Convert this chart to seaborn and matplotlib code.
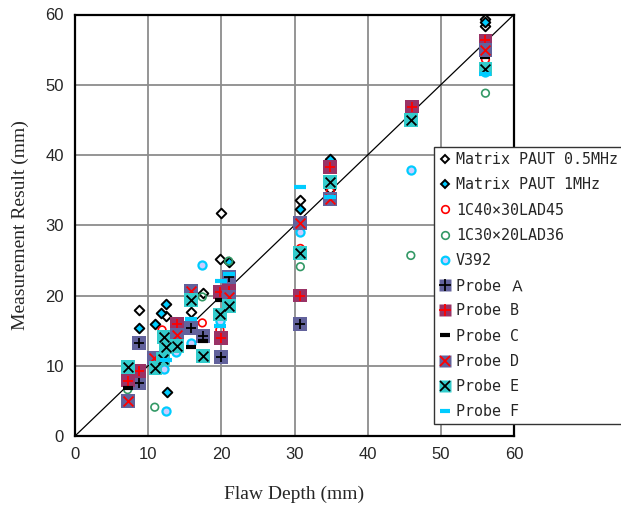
import matplotlib
matplotlib.use("Agg")
import matplotlib.pyplot as plt
from matplotlib.lines import Line2D
from matplotlib.legend_handler import HandlerTuple
import seaborn as sns

sns.set_theme(style="white")

# ---- measured flaw depths (x) and measurement results (y), in mm ----
m05_x = [8.8, 12.4, 15.9, 17.5, 19.8, 19.9, 30.8, 34.9, 34.9, 56.1, 56.1]
m05_y = [18.0, 17.1, 17.6, 20.4, 25.2, 31.8, 33.6, 39.0, 35.2, 59.4, 58.4]

m1_x = [8.7, 10.9, 11.8, 12.4, 12.6, 21.0, 30.8, 34.9, 56.1]
m1_y = [15.4, 16.0, 17.5, 18.8, 6.2, 24.8, 32.3, 39.4, 59.0]

c40_x = [11.9, 17.4, 19.8, 30.8, 34.9, 56.1]
c40_y = [15.1, 16.1, 15.1, 26.7, 34.8, 53.6]

c30_x = [7.2, 10.9, 17.4, 21.0, 30.8, 45.9, 56.1]
c30_y = [6.6, 4.1, 19.8, 24.9, 24.1, 25.7, 48.8]

v392_x = [12.5, 12.2, 13.8, 15.8, 17.4, 19.8, 30.8, 45.9, 56.1]
v392_y = [3.5, 9.5, 11.9, 13.3, 24.4, 16.3, 29.1, 37.9, 51.8]

pa_x = [8.7, 8.8, 15.9, 17.5, 20.0, 21.0, 30.8]
pa_y = [13.3, 7.6, 15.4, 14.2, 11.3, 22.6, 16.0]

pb_x = [7.2, 8.8, 14.0, 19.8, 21.0, 20.0, 30.8, 34.9, 46.0, 56.1]
pb_y = [7.9, 9.3, 16.0, 20.5, 20.7, 14.0, 20.0, 38.3, 46.9, 56.3]

pc_x = [7.2, 15.9, 17.5, 19.8, 56.1]
pc_y = [6.8, 12.6, 13.5, 19.3, 53.9]

pd_x = [7.2, 10.8, 14.0, 15.9, 21.0, 30.8, 34.9, 56.1]
pd_y = [5.0, 11.1, 14.4, 20.7, 19.8, 30.3, 33.7, 55.0]

pe_x = [7.2, 11.0, 12.0, 12.1, 12.4, 13.9, 15.9, 17.5, 19.8, 21.0, 30.8, 34.9, 45.9, 56.1]
pe_y = [9.8, 9.7, 11.0, 14.1, 12.7, 12.8, 19.4, 11.4, 17.3, 18.5, 26.0, 36.1, 45.0, 52.2]

pf_x = [12.4, 15.9, 19.9, 21.0, 19.8, 30.8, 34.9, 56.1]
pf_y = [10.8, 16.7, 22.0, 23.0, 15.7, 35.4, 34.0, 51.5]

labels = ["Matrix PAUT 0.5MHz", "Matrix PAUT 1MHz", "1C40×30LAD45",
          "1C30×20LAD36", "V392", "Probe Ａ", "Probe B", "Probe C",
          "Probe D", "Probe E", "Probe F"]

SLATE = "#62629c"
PLUM = "#993366"
TURQ = "#33cccc"
SKY = "#00ccff"
GREEN = "#339966"
LAV = "#ccccff"

fig = plt.figure(figsize=(6.21, 5.07), dpi=100)
ax = fig.add_axes([75 / 621, 1 - 436 / 507, 439 / 621, 421.5 / 507])

# reference line y = x
ax.plot([0, 60], [0, 60], color="black", lw=0.9, zorder=2)

z = 3
def pts(x, y, **kw):
    global z
    sns.scatterplot(x=x, y=y, ax=ax, legend=False, zorder=z, **kw)
    z += 0.1

pts(m05_x, m05_y, marker="D", s=24, color="white", edgecolor="black", linewidth=1.4)
pts(m1_x, m1_y, marker="D", s=24, color=SKY, edgecolor="black", linewidth=1.4)
pts(c40_x, c40_y, marker="o", s=30, facecolor="none", edgecolor="red", linewidth=1.2)
pts(c30_x, c30_y, marker="o", s=30, facecolor="none", edgecolor=GREEN, linewidth=1.2)
pts(v392_x, v392_y, marker="o", s=34, color=LAV, edgecolor=SKY, linewidth=1.6)

SQ = 100
pts(pa_x, pa_y, marker="s", s=SQ, color=SLATE, edgecolor="none")
pts(pa_x, pa_y, marker="+", s=60, color="black", linewidth=1.3)
pts(pb_x, pb_y, marker="s", s=SQ, color=PLUM, edgecolor="none")
pts(pb_x, pb_y, marker="+", s=60, color="red", linewidth=1.3)
pts(pc_x, pc_y, marker="_", s=50, color="black", linewidth=3)
pts(pd_x, pd_y, marker="s", s=SQ, color=SLATE, edgecolor="none")
pts(pd_x, pd_y, marker="x", s=50, color="red", linewidth=1.3)
pts(pe_x, pe_y, marker="s", s=SQ, color=TURQ, edgecolor="none")
pts(pe_x, pe_y, marker="x", s=50, color="black", linewidth=1.3)
pts(pf_x, pf_y, marker="_", s=70, color=SKY, linewidth=3)

ax.set_xlim(0, 60)
ax.set_ylim(0, 60)
ax.set_xticks(range(0, 61, 10))
ax.set_yticks(range(0, 61, 10))
ax.grid(True, color="#8c8c8c", lw=1.3)
ax.set_axisbelow(True)
for sp in ax.spines.values():
    sp.set_color("black")
    sp.set_linewidth(1.6)
ax.tick_params(length=0, pad=8, labelsize=12)
for t in ax.get_xticklabels() + ax.get_yticklabels():
    t.set_fontfamily("Liberation Sans")

ax.set_xlabel("Flaw Depth (mm)", fontfamily="Liberation Serif", fontsize=14, labelpad=17)
ax.set_ylabel("Measurement Result (mm)", fontfamily="Liberation Serif", fontsize=14, labelpad=12)

# legend handles
def L(**kw):
    return Line2D([], [], linestyle="none", **kw)

handles = [
    L(marker="D", markersize=4.5, markerfacecolor="white", markeredgecolor="black", markeredgewidth=1.4),
    L(marker="D", markersize=4.5, markerfacecolor=SKY, markeredgecolor="black", markeredgewidth=1.4),
    L(marker="o", markersize=5.5, markerfacecolor="none", markeredgecolor="red", markeredgewidth=1.2),
    L(marker="o", markersize=5.5, markerfacecolor="none", markeredgecolor=GREEN, markeredgewidth=1.2),
    L(marker="o", markersize=5.5, markerfacecolor=LAV, markeredgecolor=SKY, markeredgewidth=1.6),
    (L(marker="s", markersize=8, markerfacecolor=SLATE, markeredgecolor="none"),
     L(marker="+", markersize=8, color="black", markeredgewidth=1.3)),
    (L(marker="s", markersize=8, markerfacecolor=PLUM, markeredgecolor="none"),
     L(marker="+", markersize=8, color="red", markeredgewidth=1.3)),
    L(marker="_", markersize=7, color="black", markeredgewidth=3),
    (L(marker="s", markersize=8, markerfacecolor=SLATE, markeredgecolor="none"),
     L(marker="x", markersize=7, color="red", markeredgewidth=1.3)),
    (L(marker="s", markersize=8, markerfacecolor=TURQ, markeredgecolor="none"),
     L(marker="x", markersize=7, color="black", markeredgewidth=1.3)),
    L(marker="_", markersize=7, color=SKY, markeredgewidth=3),
]

leg = fig.legend(handles, labels, loc="upper left",
                 bbox_to_anchor=(434 / 621, 1 - 147 / 507),
                 handler_map={tuple: HandlerTuple(ndivide=1, pad=0)},
                 prop={"family": ["DejaVu Sans Mono", "Noto Sans CJK JP"], "size": 10.8},
                 handlelength=0.7, handletextpad=0.4, labelspacing=0.68,
                 borderpad=0.35, borderaxespad=0, fancybox=False,
                 frameon=True, framealpha=1, edgecolor="#333333")
leg.get_frame().set_linewidth(1.0)

fig.savefig("out.png", dpi=100)
